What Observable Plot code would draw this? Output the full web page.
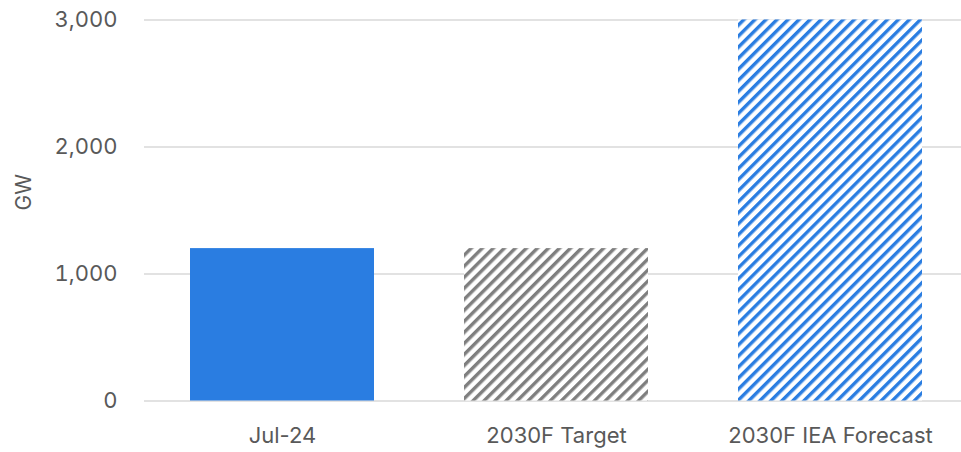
<!DOCTYPE html>
<html>
<head>
<meta charset="utf-8">
<script src="https://cdn.jsdelivr.net/npm/d3@7"></script>
<script src="https://cdn.jsdelivr.net/npm/@observablehq/plot@0.6"></script>
<style>
  html, body { margin: 0; padding: 0; background: #fff; overflow: hidden; }
  #chart svg { display: block; }
</style>
</head>
<body>
<div id="chart"></div>
<script>
const categories = ["Jul-24", "2030F Target", "2030F IEA Forecast"];
const values = [1200, 1200, 3000];
const yTicks = [0, 1000, 2000, 3000];
const yLabel = "GW";

const fillFor = {
  "Jul-24": "#2a7de1",
  "2030F Target": "url(#hatchGray)",
  "2030F IEA Forecast": "url(#hatchBlue)"
};

const data = categories.map((c, i) => ({category: c, value: values[i]}));

const chart = Plot.plot({
  width: 961,
  height: 452,
  marginTop: 19.5,
  marginBottom: 51.5,
  marginLeft: 144,
  marginRight: 0,
  style: {fontFamily: "Inter, sans-serif", fontSize: "21px", color: "#595959", background: "#fff"},
  x: {domain: categories, range: [144, 968], paddingInner: 0.33, paddingOuter: 0.165, label: null},
  y: {domain: [0, 3000], ticks: yTicks, label: null},
  color: {type: "identity"},
  marks: [
    Plot.gridY(yTicks, {stroke: "#d9d9d9", strokeOpacity: 1, strokeWidth: 1.3}),
    Plot.barY(data, {x: "category", y: "value", fill: d => fillFor[d.category]}),
    Plot.axisY(yTicks, {tickSize: 0, tickPadding: 27, tickFormat: d3.format(","), fontSize: 22, fill: "#595959", label: null}),
    Plot.axisX({tickSize: 0, tickPadding: 26, fontSize: 22, fill: "#595959", label: null}),
    Plot.text([yLabel], {frameAnchor: "left", dx: -120, rotate: -90, fontSize: 21, fill: "#595959"})
  ]
});

const defs = d3.select(chart).insert("defs", ":first-child");
function hatch(id, color) {
  const s = 7.8;
  const p = defs.append("pattern")
    .attr("id", id)
    .attr("patternUnits", "userSpaceOnUse")
    .attr("width", s)
    .attr("height", s)
    .attr("patternTransform", "rotate(45)");
  p.append("rect").attr("x", 0).attr("y", 0).attr("width", s).attr("height", s).attr("fill", "#fff");
  p.append("rect").attr("x", 0).attr("y", 0).attr("width", 3.4).attr("height", s).attr("fill", color);
}
hatch("hatchGray", "#7f7f7f");
hatch("hatchBlue", "#2a7de1");

document.getElementById("chart").appendChild(chart);
</script>
</body>
</html>
